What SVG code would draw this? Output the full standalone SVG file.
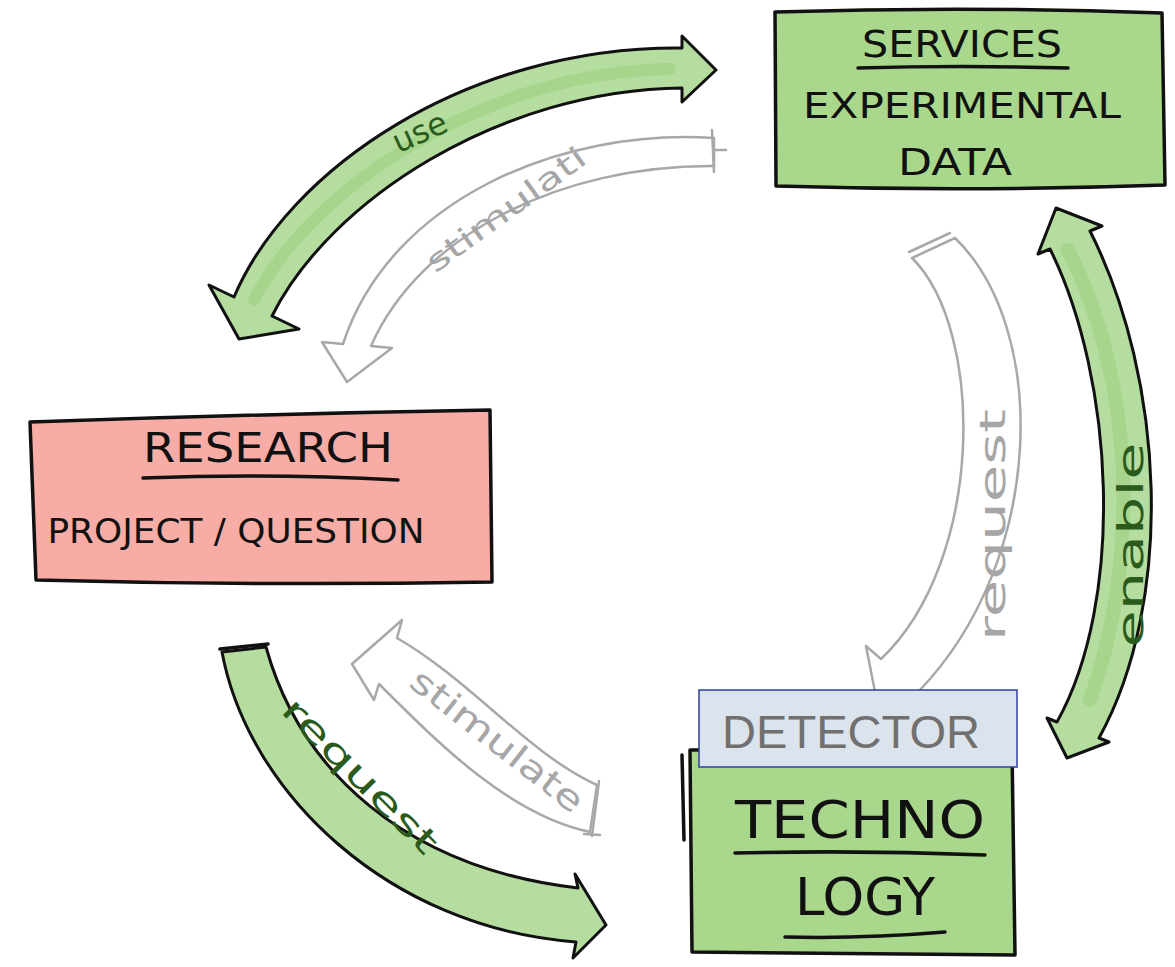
<svg xmlns="http://www.w3.org/2000/svg" width="1175" height="967" viewBox="0 0 1175 967">
<style>
.box{stroke:#111;stroke-width:3.5;stroke-linejoin:round}
.green{fill:#a9d78b}
.pink{fill:#f7aca5}
.ink{font-family:"DejaVu Sans","Liberation Sans",sans-serif;fill:#111;text-anchor:middle}
.rule{fill:none;stroke:#111;stroke-width:3.5;stroke-linecap:round}
.garrow{fill:#b6dda0;stroke:#111;stroke-width:3;stroke-linejoin:round}
.streak{fill:none;stroke:#9acd7c;stroke-linecap:round;opacity:.55}
.warrow{fill:#fff;stroke:#a8a8a8;stroke-width:2.5;stroke-linejoin:round}
.wmark{fill:none;stroke:#a8a8a8;stroke-width:2.5;stroke-linecap:round}
.glabel{font-family:"DejaVu Sans","Liberation Sans",sans-serif;fill:#2a5a1c;text-anchor:middle}
.wlabel{font-family:"DejaVu Sans","Liberation Sans",sans-serif;fill:#a6a6a6;text-anchor:middle}
</style>
<rect width="1175" height="967" fill="#fff"/>

<g id="connectors">
  <g id="arrow-use">
    <path class="garrow" d="M 234,297 C 288,170 466,46 682,48 L 682,36 L 716,70 L 682,102 L 682,88 C 500,90 330,200 272,316 L 299,329 L 239,339 L 209,285 Z"/>
    <path class="streak" stroke-width="12" d="M 254,300 C 311,188 485,72 670,69"/>
    <text class="glabel" font-size="32" transform="translate(424,142) rotate(-24)">use</text>
  </g>
  <g id="arrow-stimulate-top">
    <path class="warrow" d="M 714,138 C 560,128 390,200 343,344 L 322,342 L 347,382 L 392,348 L 371,346 C 420,235 560,165 714,166 Z"/>
    <path class="wmark" d="M 712,130 L 714,172 M 714,150 L 726,150"/>
    <text class="wlabel" font-size="30" textLength="190" lengthAdjust="spacingAndGlyphs" transform="translate(512,218) rotate(-36)">stimulati</text>
  </g>
  <g id="arrow-request-right">
    <path class="warrow" d="M 912,258 L 955,238 C 1050,330 1045,560 919,691 L 934,704 L 877,702 L 866,646 L 881,659 C 985,560 985,330 912,258 Z"/>
    <path class="wmark" d="M 909,252 L 950,233"/>
    <text class="wlabel" font-size="36" textLength="232" lengthAdjust="spacingAndGlyphs" transform="translate(1005,525) rotate(-90)">request</text>
  </g>
  <g id="arrow-enable">
    <path class="garrow" d="M 1050,249 C 1115,380 1125,600 1057,722 L 1047,718 L 1067,758 L 1109,742 L 1099,738 C 1175,600 1165,380 1090,231 L 1102,226 L 1056,208 L 1038,254 Z"/>
    <path class="streak" stroke-width="14" d="M 1068,250 C 1135,380 1140,560 1090,700"/>
    <text class="glabel" font-size="36" textLength="205" lengthAdjust="spacingAndGlyphs" transform="translate(1143,545) rotate(-90)">enable</text>
  </g>
  <g id="arrow-request-bottom">
    <path class="garrow" d="M 222,652 L 266,647 C 300,770 405,868 578,888 L 575,874 L 606,925 L 573,958 L 576,942 C 388,928 248,792 222,652 Z"/>
    <path class="rule" stroke-width="5" d="M 220,649 L 268,644"/>
    <text class="glabel" font-size="34" textLength="205" lengthAdjust="spacingAndGlyphs" transform="translate(352,784) rotate(45)">request</text>
  </g>
  <g id="arrow-stimulate-bottom">
    <path class="warrow" d="M 597,785 C 530,755 470,680 397,638 L 402,620 L 352,664 L 374,700 L 379,684 C 440,745 510,815 590,832 Z"/>
    <path class="wmark" d="M 599,781 L 592,836 M 584,834 L 600,835"/>
    <text class="wlabel" font-size="34" textLength="210" lengthAdjust="spacingAndGlyphs" transform="translate(490,750) rotate(38)">stimulate</text>
  </g>
</g>

<g id="node-services">
  <path class="box green" d="M 775,12 Q 970,6 1162,13 L 1165,185 Q 970,192 776,186 Z"/>
  <text class="ink" x="962" y="57" font-size="38" textLength="200" lengthAdjust="spacingAndGlyphs">SERVICES</text>
  <path class="rule" d="M 858,68 Q 960,65 1068,68"/>
  <text class="ink" x="962" y="118" font-size="36" textLength="318" lengthAdjust="spacingAndGlyphs">EXPERIMENTAL</text>
  <text class="ink" x="955" y="175" font-size="38" textLength="114" lengthAdjust="spacingAndGlyphs">DATA</text>
</g>

<g id="node-research">
  <path class="box pink" d="M 30,422 Q 260,414 490,410 L 492,582 Q 260,586 36,580 Z"/>
  <text class="ink" x="268" y="462" font-size="40" textLength="250" lengthAdjust="spacingAndGlyphs">RESEARCH</text>
  <path class="rule" d="M 143,478 Q 270,473 398,480"/>
  <text class="ink" x="236" y="543" font-size="34" textLength="377" lengthAdjust="spacingAndGlyphs">PROJECT / QUESTION</text>
</g>

<g id="node-technology">
  <path class="box green" d="M 690,750 L 1012,748 L 1015,955 L 692,952 Z"/>
  <path class="rule" stroke-width="3" d="M 682,755 L 684,840"/>
  <text class="ink" x="860" y="838" font-size="52" textLength="250" lengthAdjust="spacingAndGlyphs">TECHNO</text>
  <path class="rule" d="M 735,853 Q 860,850 985,855"/>
  <text class="ink" x="865" y="915" font-size="52" textLength="140" lengthAdjust="spacingAndGlyphs">LOGY</text>
  <path class="rule" d="M 785,937 Q 860,939 945,932"/>
</g>

<g id="node-detector">
  <rect x="699" y="690" width="318" height="77" fill="#dbe3ec" stroke="#2e3f9e" stroke-width="1.5"/>
  <text x="722" y="748" font-family="Liberation Sans, Arial, sans-serif" font-size="46" fill="#707070" textLength="258" lengthAdjust="spacingAndGlyphs">DETECTOR</text>
</g>
</svg>
